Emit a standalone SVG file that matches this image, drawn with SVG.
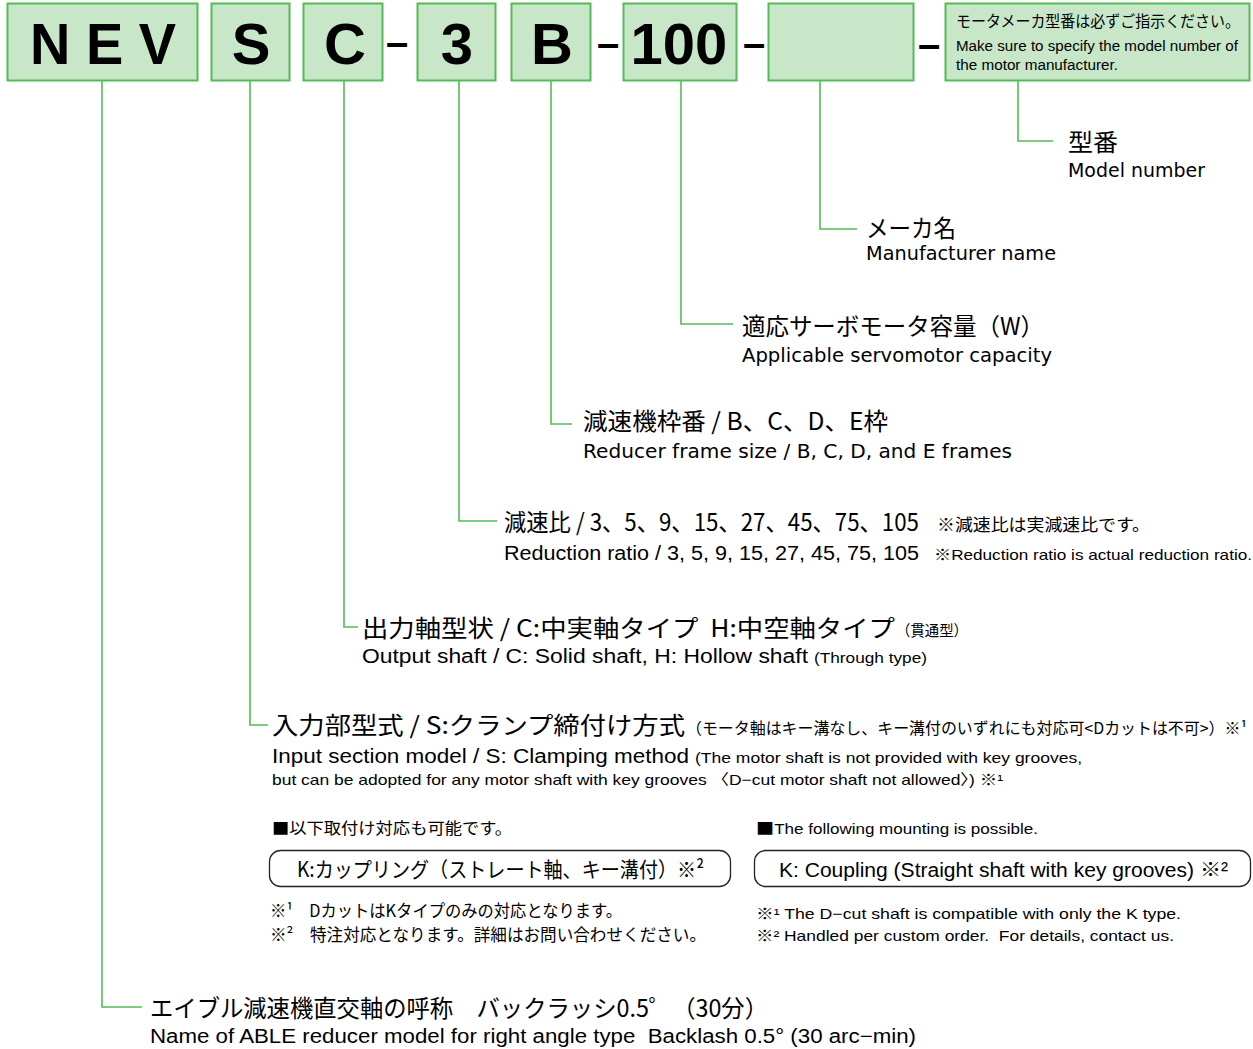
<svg xmlns="http://www.w3.org/2000/svg" width="1253" height="1049" viewBox="0 0 1253 1049">
<style>
.box{fill:#c8e7c8;stroke:#55bb55;stroke-width:2}
.big{font-family:"Liberation Sans",Arial,sans-serif;font-weight:bold;font-size:58px;fill:#000;text-anchor:middle}
.dash{font-family:"Liberation Sans",Arial,sans-serif;font-weight:bold;font-size:40px;fill:#000;text-anchor:middle}
.jp{font-family:"Noto Sans CJK JP",sans-serif;fill:#000}
.en{font-family:"Liberation Sans","Noto Sans CJK JP",sans-serif;fill:#000}
.wide{font-family:"DejaVu Sans","Noto Sans CJK JP",sans-serif;fill:#000}
.sq{font-family:"Noto Sans CJK JP",sans-serif}
.conn{fill:none;stroke:#55bb55;stroke-width:1.6}
.rbox{fill:#fff;stroke:#222;stroke-width:1.3}
</style>
<rect width="1253" height="1049" fill="#fff"/>

<g id="connectors">
<path class="conn" d="M102 81 V1007 H142"/>
<path class="conn" d="M250 81 V725 H268"/>
<path class="conn" d="M344 81 V627 H358"/>
<path class="conn" d="M459 81 V521 H497"/>
<path class="conn" d="M551 81 V424 H572"/>
<path class="conn" d="M681 81 V324 H733"/>
<path class="conn" d="M820 81 V229 H857"/>
<path class="conn" d="M1018 81 V141 H1053"/>
</g>

<g id="node-nev"><rect class="box" x="7.5" y="3.5" width="190" height="77"/>
<text class="big" x="103" y="64" textLength="146" lengthAdjust="spacingAndGlyphs">N E V</text></g>
<g id="node-s"><rect class="box" x="211.5" y="3.5" width="78" height="77"/>
<text class="big" x="251" y="64">S</text></g>
<g id="node-c"><rect class="box" x="303.5" y="3.5" width="79" height="77"/>
<text class="big" x="345" y="64">C</text></g>
<text class="dash" x="397" y="56">–</text>
<g id="node-3"><rect class="box" x="417.5" y="3.5" width="78" height="77"/>
<text class="big" x="457" y="64">3</text></g>
<g id="node-b"><rect class="box" x="511.5" y="3.5" width="79" height="77"/>
<text class="big" x="552" y="64">B</text></g>
<text class="dash" x="608" y="57">–</text>
<g id="node-100"><rect class="box" x="623.5" y="3.5" width="113" height="77"/>
<text class="big" x="679" y="64">100</text></g>
<text class="dash" x="754" y="57">–</text>
<g id="node-empty"><rect class="box" x="768.5" y="3.5" width="145" height="77"/></g>
<text class="dash" x="929" y="58">–</text>
<g id="node-note"><rect class="box" x="945.5" y="3.5" width="304" height="77"/>
<text class="jp" x="956" y="27" font-size="15.5" textLength="284" lengthAdjust="spacingAndGlyphs">モータメーカ型番は必ずご指示ください。</text>
<text class="en" x="956" y="51" font-size="14" textLength="282" lengthAdjust="spacingAndGlyphs">Make sure to specify the model number of</text>
<text class="en" x="956" y="70" font-size="14" textLength="162" lengthAdjust="spacingAndGlyphs">the motor manufacturer.</text></g>

<g id="label-model">
<text class="jp" x="1068" y="151" font-size="24" textLength="50" lengthAdjust="spacingAndGlyphs">型番</text>
<text class="wide" x="1068" y="177" font-size="19" textLength="137" lengthAdjust="spacingAndGlyphs">Model number</text></g>
<g id="label-maker">
<text class="jp" x="866" y="237" font-size="24" textLength="90" lengthAdjust="spacingAndGlyphs">メーカ名</text>
<text class="wide" x="866" y="260" font-size="19" textLength="190" lengthAdjust="spacingAndGlyphs">Manufacturer name</text></g>
<g id="label-capacity">
<text class="jp" x="742" y="335" font-size="24" textLength="302" lengthAdjust="spacingAndGlyphs">適応サーボモータ容量（W）</text>
<text class="wide" x="742" y="362" font-size="19" textLength="310" lengthAdjust="spacingAndGlyphs">Applicable servomotor capacity</text></g>
<g id="label-frame">
<text class="jp" x="583" y="430" font-size="24" textLength="305" lengthAdjust="spacingAndGlyphs">減速機枠番 / B、C、D、E枠</text>
<text class="wide" x="583" y="458" font-size="19" textLength="429" lengthAdjust="spacingAndGlyphs">Reducer frame size / B, C, D, and E frames</text></g>
<g id="label-ratio">
<text class="jp" x="504" y="531" font-size="24" textLength="415" lengthAdjust="spacingAndGlyphs">減速比 / 3、5、9、15、27、45、75、105</text>
<text class="jp" x="937" y="531" font-size="17" textLength="213" lengthAdjust="spacingAndGlyphs">※減速比は実減速比です。</text>
<text class="en" x="504" y="560" font-size="20" textLength="415" lengthAdjust="spacingAndGlyphs">Reduction ratio / 3, 5, 9, 15, 27, 45, 75, 105</text>
<text class="en" x="934" y="560" font-size="15" textLength="318" lengthAdjust="spacingAndGlyphs">※Reduction ratio is actual reduction ratio.</text></g>
<g id="label-output">
<text class="jp" x="362" y="637" font-size="24" textLength="533" lengthAdjust="spacingAndGlyphs">出力軸型状 / C:中実軸タイプ&#160;&#160;H:中空軸タイプ</text>
<text class="jp" x="896" y="636" font-size="15" textLength="72" lengthAdjust="spacingAndGlyphs">（貫通型）</text>
<text class="en" x="362" y="663" font-size="20" textLength="446" lengthAdjust="spacingAndGlyphs">Output shaft / C: Solid shaft, H: Hollow shaft</text>
<text class="en" x="814" y="663" font-size="15" textLength="113" lengthAdjust="spacingAndGlyphs">(Through type)</text></g>
<g id="label-input">
<text class="jp" x="272" y="734" font-size="24" textLength="413" lengthAdjust="spacingAndGlyphs">入力部型式 / S:クランプ締付け方式</text>
<text class="jp" x="686" y="734" font-size="16" textLength="561" lengthAdjust="spacingAndGlyphs">（モータ軸はキー溝なし、キー溝付のいずれにも対応可&lt;Dカットは不可&gt;）※¹</text>
<text class="en" x="272" y="763" font-size="20" textLength="417" lengthAdjust="spacingAndGlyphs">Input section model / S: Clamping method</text>
<text class="en" x="695" y="763" font-size="15" textLength="387" lengthAdjust="spacingAndGlyphs">(The motor shaft is not provided with key grooves,</text>
<text class="en" x="272" y="785" font-size="15" textLength="731" lengthAdjust="spacingAndGlyphs">but can be adopted for any motor shaft with key grooves 〈D−cut motor shaft not allowed〉) ※¹</text></g>
<g id="label-options">
<text class="jp" x="272" y="834" font-size="16" textLength="240" lengthAdjust="spacingAndGlyphs">■以下取付け対応も可能です。</text>
<text class="en" x="756" y="834" font-size="15" textLength="282" lengthAdjust="spacingAndGlyphs"><tspan class="sq" font-size="16">■</tspan>The following mounting is possible.</text>
<rect class="rbox" x="269.5" y="850.5" width="461" height="36" rx="11"/>
<text class="jp" x="297" y="877" font-size="21" textLength="407" lengthAdjust="spacingAndGlyphs">K:カップリング（ストレート軸、キー溝付）※²</text>
<rect class="rbox" x="754.5" y="850.5" width="496" height="36" rx="11"/>
<text class="en" x="779" y="877" font-size="20" textLength="449" lengthAdjust="spacingAndGlyphs">K: Coupling (Straight shaft with key grooves) ※²</text>
<text class="jp" x="270" y="917" font-size="17" textLength="352" lengthAdjust="spacingAndGlyphs">※¹　DカットはKタイプのみの対応となります。</text>
<text class="jp" x="270" y="941" font-size="17" textLength="436" lengthAdjust="spacingAndGlyphs">※²　特注対応となります。詳細はお問い合わせください。</text>
<text class="en" x="756" y="919" font-size="15" textLength="425" lengthAdjust="spacingAndGlyphs">※¹ The D−cut shaft is compatible with only the K type.</text>
<text class="en" x="756" y="941" font-size="15" textLength="418" lengthAdjust="spacingAndGlyphs">※² Handled per custom order.&#160; For details, contact us.</text></g>
<g id="label-name">
<text class="jp" x="150" y="1017" font-size="24" textLength="618" lengthAdjust="spacingAndGlyphs">エイブル減速機直交軸の呼称　バックラッシ0.5゜（30分）</text>
<text class="en" x="150" y="1043" font-size="20" textLength="766" lengthAdjust="spacingAndGlyphs">Name of ABLE reducer model for right angle type&#160; Backlash 0.5° (30 arc−min)</text></g>
</svg>
